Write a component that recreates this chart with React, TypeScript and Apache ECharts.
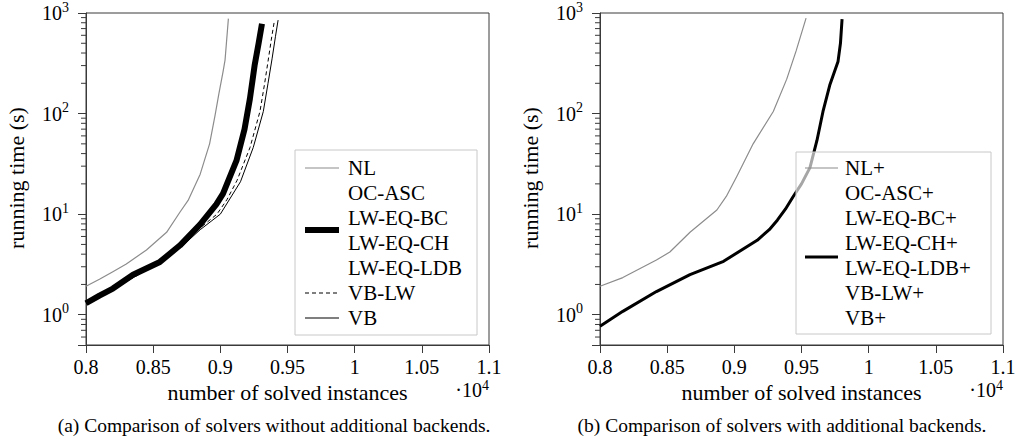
import React, { useEffect, useRef } from "react";
import * as echarts from "echarts";

type Pt = [number, number];

// ---------- data (number of solved instances, running time in s) ----------
const leftNL: Pt[] = [
  [8000, 1.92], [8100, 2.25], [8200, 2.68], [8300, 3.2], [8450, 4.4], [8600, 6.6],
  [8700, 10.5], [8760, 13.7], [8850, 25], [8920, 50], [8960, 95], [8990, 160],
  [9020, 260], [9035, 340], [9050, 600], [9060, 880],
];
const leftLWEQBC: Pt[] = [
  [8000, 1.3], [8100, 1.55], [8200, 1.82], [8350, 2.5], [8550, 3.35], [8700, 4.9],
  [8850, 7.9], [8970, 12.5], [9020, 16], [9120, 34], [9180, 70], [9220, 140],
  [9255, 300], [9285, 500], [9310, 780],
];
const leftVBLW: Pt[] = [
  [8000, 1.3], [8200, 1.8], [8550, 3.3], [8700, 4.7], [8850, 7.3], [8975, 10],
  [9050, 14], [9124, 21.6], [9221, 46], [9295, 105], [9330, 200], [9355, 330],
  [9380, 550], [9400, 800],
];
const leftVB: Pt[] = [
  [8000, 1.3], [8200, 1.8], [8550, 3.3], [8700, 4.6], [8850, 7], [9000, 10],
  [9150, 21], [9245, 46], [9320, 105], [9355, 200], [9385, 350], [9410, 580],
  [9430, 850],
];
const rightNL: Pt[] = [
  [8000, 1.92], [8170, 2.34], [8420, 3.5], [8520, 4.2], [8670, 6.6], [8870, 11],
  [8940, 15], [9020, 24], [9140, 50], [9290, 105], [9390, 220], [9460, 420],
  [9534, 890],
];
const rightBest: Pt[] = [
  [8000, 0.77], [8170, 1.08], [8420, 1.7], [8670, 2.5], [8920, 3.4], [9170, 5.5],
  [9260, 7.0], [9320, 8.7], [9380, 11.2], [9436, 14.8], [9500, 20], [9563, 29],
  [9615, 54], [9660, 105], [9712, 195], [9772, 330], [9790, 500], [9802, 870],
];

const leftLegend = ["NL", "OC-ASC", "LW-EQ-BC", "LW-EQ-CH", "LW-EQ-LDB", "VB-LW", "VB"];
const rightLegend = ["NL+", "OC-ASC+", "LW-EQ-BC+", "LW-EQ-CH+", "LW-EQ-LDB+", "VB-LW+", "VB+"];
const minorTickValues = [
  0.6, 0.7, 0.8, 0.9,
  2, 3, 4, 5, 6, 7, 8, 9,
  20, 30, 40, 50, 60, 70, 80, 90,
  200, 300, 400, 500, 600, 700, 800, 900,
];
const xMin = 8000;
const xMax = 11000;
const xStep = 500;
const yMin = 0.5;
const yMax = 1000;
const xName = "number of solved instances";
const yName = "running time (s)";
const captionA = "(a) Comparison of solvers without additional backends.";
const captionB = "(b) Comparison of solvers with additional backends.";

const FONT = "'Liberation Serif', 'Times New Roman', serif";
const AX = "#3a3a3a";

export default function App() {
  const ref = useRef<HTMLDivElement>(null);
  useEffect(() => {
    document.body.style.margin = "0";
    if (!ref.current) return;
    const chart = echarts.init(ref.current, null, { renderer: "svg" });

    const grids = [
      { left: 86, top: 11, width: 403, height: 334 },
      { left: 600, top: 11, width: 403, height: 334 },
    ];

    const xAxis = grids.map((_, i) => ({
      type: "value",
      gridIndex: i,
      min: xMin,
      max: xMax,
      interval: xStep,
      name: xName,
      nameLocation: "middle",
      nameGap: 35,
      nameTextStyle: { fontFamily: FONT, fontSize: 22, color: "#000" },
      axisLine: { show: true, onZero: false, lineStyle: { color: AX, width: 1 } },
      axisTick: { show: true, length: 8, lineStyle: { color: AX, width: 1 } },
      splitLine: { show: false },
      axisLabel: {
        fontFamily: FONT,
        fontSize: 20,
        color: "#000",
        margin: 12,
        formatter: (v: number) => String(+(v / 10000).toFixed(2)),
      },
    }));

    const yAxis = grids.map((_, i) => ({
      type: "log",
      logBase: 10,
      gridIndex: i,
      min: yMin,
      max: yMax,
      axisLine: { show: true, onZero: false, lineStyle: { color: AX, width: 1 } },
      axisTick: { show: true, length: 8, lineStyle: { color: AX, width: 1 } },
      splitLine: { show: false },
      axisLabel: {
        fontFamily: FONT,
        color: "#000",
        margin: 17,
        formatter: (v: number) => {
          const l = Math.log10(v);
          const e = Math.round(l);
          if (Math.abs(l - e) > 1e-6) return "";
          return `{b|10}{s|${e}}`;
        },
        rich: {
          b: { fontFamily: FONT, fontSize: 20, lineHeight: 26, color: "#000" },
          s: { fontFamily: FONT, fontSize: 14, lineHeight: 26, verticalAlign: "top", color: "#000" },
        },
      },
    }));

    const line = (name: string, data: Pt[], idx: number, color: string, width: number, type: any = "solid", z = 3) => ({
      type: "line",
      name,
      data,
      xAxisIndex: idx,
      yAxisIndex: idx,
      showSymbol: false,
      symbol: "none",
      smooth: false,
      z,
      lineStyle: { color, width, type, cap: "butt", join: "round" },
      silent: true,
    });

    const minor = (idx: number) => ({
      type: "custom",
      xAxisIndex: idx,
      yAxisIndex: idx,
      silent: true,
      clip: false,
      data: minorTickValues.map((v) => [xMin, v]),
      encode: { x: 0, y: 1 },
      renderItem: (_p: any, api: any) => {
        const c = api.coord([api.value(0), api.value(1)]);
        return {
          type: "line",
          shape: { x1: c[0] - 5, y1: c[1], x2: c[0], y2: c[1] },
          style: { stroke: AX, lineWidth: 1 },
        };
      },
    });

    const legendGroup = (
      labels: string[],
      bx: number, by: number, bw: number, bh: number,
      lx1: number, lx2: number, tx: number,
      samples: any[]
    ) => ({
      type: "group",
      z: 100,
      children: [
        {
          type: "rect",
          shape: { x: bx, y: by, width: bw, height: bh },
          style: { fill: "rgba(255,255,255,0.65)", stroke: "#c8c8c8", lineWidth: 1 },
          z: 100,
        },
        ...samples.map((s) => ({
          type: "line",
          shape: { x1: lx1, y1: s.y, x2: lx2, y2: s.y },
          style: { stroke: s.color, lineWidth: s.width, lineDash: s.dash || null },
          z: 101,
        })),
        ...labels.map((t, k) => ({
          type: "text",
          x: tx,
          y: 168 + k * 25,
          style: {
            text: t,
            fontFamily: FONT,
            fontSize: 21,
            fill: "#000",
            verticalAlign: "middle",
            align: "left",
          },
          z: 101,
        })),
      ],
    });

    const powerText = (x: number) => ({
      type: "text",
      x,
      y: 378,
      style: {
        text: "{d|·10}{e|4}",
        rich: {
          d: { fontFamily: FONT, fontSize: 20, lineHeight: 24, fill: "#000" },
          e: { fontFamily: FONT, fontSize: 14, lineHeight: 24, verticalAlign: "top", fill: "#000" },
        },
        align: "right",
        verticalAlign: "top",
      },
    });

    const yLabel = (x: number) => ({
      type: "text",
      x,
      y: 178,
      rotation: Math.PI / 2,
      style: {
        text: yName,
        fontFamily: FONT,
        fontSize: 22,
        fill: "#000",
        align: "center",
        verticalAlign: "middle",
      },
    });

    const caption = (t: string, cx: number) => ({
      type: "text",
      x: cx,
      y: 425,
      style: {
        text: t,
        fontFamily: FONT,
        fontSize: 19.5,
        fill: "#000",
        align: "center",
        verticalAlign: "middle",
      },
    });

    chart.setOption({
      animation: false,
      backgroundColor: "#fff",
      grid: grids.map((g) => ({ ...g, show: true, borderColor: AX, borderWidth: 1, backgroundColor: "transparent" })),
      xAxis,
      yAxis,
      series: [
        minor(0),
        minor(1),
        line("NL", leftNL, 0, "#8c8c8c", 1.2),
        line("LW-EQ-BC", leftLWEQBC, 0, "#000", 6, "solid", 3),
        line("VB-LW", leftVBLW, 0, "#000", 1, [4, 3], 4),
        line("VB", leftVB, 0, "#000", 1, "solid", 4),
        line("NL+", rightNL, 1, "#8c8c8c", 1.2),
        line("LW-EQ-CH+", rightBest, 1, "#000", 3),
      ],
      graphic: [
        legendGroup(leftLegend, 295, 150, 182, 185, 305, 339, 348, [
          { y: 168, color: "#8c8c8c", width: 1.2 },
          { y: 230, color: "#000", width: 6 },
          { y: 293, color: "#000", width: 1.2, dash: [4, 3] },
          { y: 318, color: "#000", width: 1.2 },
        ]),
        legendGroup(rightLegend, 796, 152, 195, 182, 805, 838, 845, [
          { y: 168, color: "#8c8c8c", width: 1.2 },
          { y: 257, color: "#000", width: 3 },
        ]),
        yLabel(16),
        yLabel(530),
        powerText(489),
        powerText(1003),
        caption(captionA, 274),
        caption(captionB, 782),
      ],
    });
    return () => chart.dispose();
  }, []);
  return <div ref={ref} style={{ width: 1025, height: 440 }} />;
}
